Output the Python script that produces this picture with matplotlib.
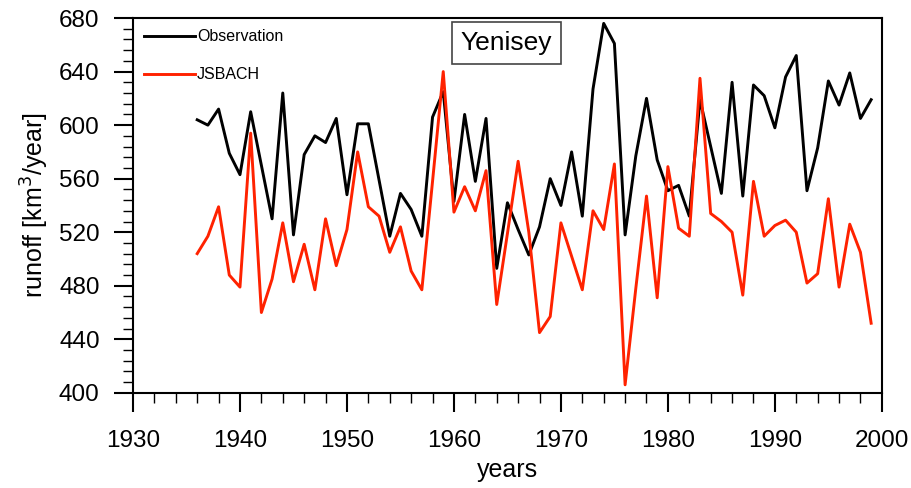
#Yenisey runoff: observation vs JSBACH

import numpy as np
import matplotlib
matplotlib.use('Agg')
import matplotlib.pyplot as plt
from matplotlib.ticker import MultipleLocator

plt.rcParams['font.family'] = ['Liberation Sans', 'DejaVu Sans']

years = np.arange(1936, 2000)

observation = [604, 600, 612, 579, 563, 610, 570, 530, 624, 518,
               578, 592, 587, 605, 548, 601, 601, 559, 517, 549,
               537, 517, 606, 625, 543, 608, 558, 605, 493, 542,
               522, 503, 524, 560, 540, 580, 532, 627, 676, 661,
               518, 577, 620, 574, 551, 555, 532, 619, 584, 549,
               632, 547, 630, 622, 598, 636, 652, 551, 583, 633,
               615, 639, 605, 619]

jsbach = [504, 517, 539, 488, 479, 594, 460, 485, 527, 483,
          511, 477, 530, 495, 522, 580, 539, 532, 505, 524,
          491, 477, 558, 640, 535, 554, 536, 566, 466, 519,
          573, 520, 445, 457, 527, 502, 477, 536, 522, 571,
          406, 478, 547, 471, 569, 523, 517, 635, 534, 528,
          520, 473, 558, 517, 525, 529, 520, 482, 489, 545,
          479, 526, 505, 452]

fig = plt.figure(figsize=(9.11, 4.88), dpi=100)
ax = fig.add_axes([0.146, 0.195, 0.822, 0.768])

ax.plot(years, observation, color='black', lw=2.1, label='Observation')
ax.plot(years, jsbach, color='#ff2200', lw=2.1, label='JSBACH')

ax.set_xlim(1930, 2000)
ax.set_ylim(400, 680)
ax.xaxis.set_major_locator(MultipleLocator(10))
ax.xaxis.set_minor_locator(MultipleLocator(2))
ax.yaxis.set_major_locator(MultipleLocator(40))
ax.yaxis.set_minor_locator(MultipleLocator(8))

ax.tick_params(which='major', direction='out', length=14, width=1.5, labelsize=17.5)
ax.tick_params(axis='y', which='major', pad=10)
ax.tick_params(axis='x', which='major', pad=13)
ax.tick_params(which='minor', direction='out', length=7, width=1.0)
ax.tick_params(top=False, right=False)
for s in ax.spines.values():
    s.set_linewidth(1.5)

ax.set_xlabel('years', fontsize=18, labelpad=4)
ax.set_ylabel('runoff [km$^3$/year]', fontsize=18, labelpad=6)

# legend, NCL style, upper left
leg = ax.legend(loc='upper left', frameon=False, fontsize=11.5, handlelength=3.2,
                handletextpad=0.1, labelspacing=1.45, borderaxespad=0.3,
                bbox_to_anchor=(0.0, 1.0))

ax.text(0.499, 0.933, 'Yenisey', transform=ax.transAxes, fontsize=19,
        ha='center', va='center',
        bbox=dict(boxstyle='square,pad=0.33', fc='white', ec='#444444', lw=1.2))

fig.savefig('out.png', dpi=100)
